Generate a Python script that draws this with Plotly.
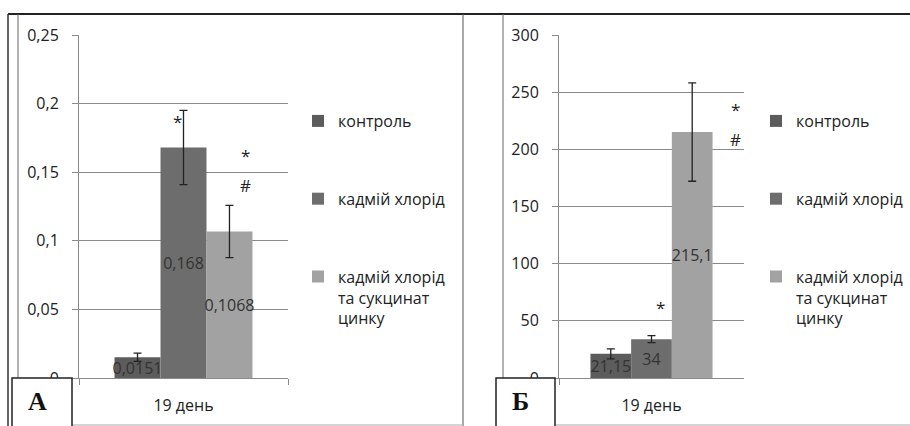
import plotly.graph_objects as go

W, H = 910, 426

categories = ["19 день"]
series_names = ["контроль", "кадмій хлорід", "кадмій хлорід<br>та сукцинат<br>цинку"]
colors = ["#5c5c5c", "#6d6d6d", "#a2a2a2"]

# Panel A
a_values = [0.0151, 0.168, 0.1068]
a_err = [0.003, 0.027, 0.019]
a_labels = ["0,0151", "0,168", "0,1068"]
# Panel Б
b_values = [21.15, 34, 215.1]
b_err = [4.4, 3.0, 43.0]
b_labels = ["21,15", "34", "215,1"]

# significance marks: (panel, bar index, text, x offset in category units, y value)
marks = [
    ("A", 1, "*", -0.03, 0.187),
    ("A", 2, "*", 0.295, 0.1625),
    ("A", 2, "#", 0.295, 0.1405),
    ("B", 1, "*", 0.046, 62),
    ("B", 2, "*", 0.452, 235),
    ("B", 2, "#", 0.452, 209),
]

FONT = "Open Sans"

def px(x):
    return x / W

def py(y):
    return 1 - y / H

fig = go.Figure()

for i in range(3):
    fig.add_trace(go.Bar(
        x=categories, y=[a_values[i]], name=series_names[i],
        marker=dict(color=colors[i], line=dict(width=0)),
        error_y=dict(type="data", array=[a_err[i]], color="#222", thickness=1.3, width=4),
        text=[a_labels[i]], textposition="inside", insidetextanchor="middle", textangle=0,
        constraintext="none", textfont=dict(color="#333", size=16, family=FONT),
        xaxis="x", yaxis="y", legend="legend", legendgroup="a%d" % i,
    ))
for i in range(3):
    fig.add_trace(go.Bar(
        x=categories, y=[b_values[i]], name=series_names[i],
        marker=dict(color=colors[i], line=dict(width=0)),
        error_y=dict(type="data", array=[b_err[i]], color="#222", thickness=1.3, width=4),
        text=[b_labels[i]], textposition="inside", insidetextanchor="middle", textangle=0,
        constraintext="none", textfont=dict(color="#333", size=16, family=FONT),
        xaxis="x2", yaxis="y2", legend="legend2", legendgroup="b%d" % i,
    ))

axis_common = dict(showline=True, linecolor="#8a8a8a", linewidth=1, ticks="outside",
                   tickcolor="#8a8a8a", ticklen=6, automargin=False,
                   tickfont=dict(size=16, color="#222", family=FONT))

fig.update_layout(
    width=W, height=H, margin=dict(l=0, r=0, t=0, b=0, autoexpand=False),
    paper_bgcolor="white", plot_bgcolor="white",
    separators=", ",
    barmode="group", bargap=0.34, bargroupgap=0,
    font=dict(family=FONT, size=16, color="#222"),
    xaxis=dict(domain=[px(79), px(288)], tickson="boundaries", ticklabelstandoff=13,
               anchor="y", **axis_common),
    yaxis=dict(domain=[py(378), py(35)], range=[0, 0.25], dtick=0.05, showgrid=True,
               gridcolor="#8a8a8a", gridwidth=1, ticklabelstandoff=10, anchor="x",
               zeroline=False, **axis_common),
    xaxis2=dict(domain=[px(559), px(744)], tickson="boundaries", ticklabelstandoff=13,
                anchor="y2", **axis_common),
    yaxis2=dict(domain=[py(378), py(35)], range=[0, 300], dtick=50, showgrid=True,
                gridcolor="#8a8a8a", gridwidth=1, ticklabelstandoff=10, anchor="x2",
                zeroline=False, **axis_common),
    legend=dict(x=px(298), y=py(104), xanchor="left", yanchor="top", tracegroupgap=54,
                font=dict(size=16, color="#222", family=FONT), valign="top",
                bgcolor="rgba(0,0,0,0)", itemwidth=30),
    legend2=dict(x=px(756), y=py(104), xanchor="left", yanchor="top", tracegroupgap=54,
                 font=dict(size=16, color="#222", family=FONT), valign="top",
                 bgcolor="rgba(0,0,0,0)", itemwidth=30),
    showlegend=True,
)

shapes = []
def line(x0, y0, x1, y1, color, width):
    shapes.append(dict(type="line", xref="paper", yref="paper", x0=px(x0), y0=py(y0),
                       x1=px(x1), y1=py(y1), line=dict(color=color, width=width), layer="above"))

line(8, 14, 910, 14, "#222", 2)
line(8, 14, 8, 426, "#333", 1.5)
line(18, 14, 18, 378, "#666", 1)
line(463, 14, 463, 426, "#555", 1)
line(503, 14, 503, 378, "#666", 1)
line(72, 425, 463, 425, "#aaa", 1)
line(555, 425, 910, 425, "#aaa", 1)
for (x0, x1) in [(12, 72), (496, 555)]:
    shapes.append(dict(type="rect", xref="paper", yref="paper", x0=px(x0), y0=py(432),
                       x1=px(x1), y1=py(378), fillcolor="white",
                       line=dict(color="#222", width=1.5), layer="above"))
fig.update_layout(shapes=shapes)

ann = []
for lbl, xc in [("А", 37), ("Б", 520)]:
    ann.append(dict(text="<b>%s</b>" % lbl, x=px(xc), y=py(401), xref="paper", yref="paper",
                    xanchor="center", yanchor="middle", showarrow=False,
                    font=dict(family="Liberation Serif", size=26, color="#111")))
for panel, idx, t, dx, yv in marks:
    xr, yr = ("x", "y") if panel == "A" else ("x2", "y2")
    ann.append(dict(text=t, x=dx, y=yv, xref=xr, yref=yr, showarrow=False,
                    font=dict(size=17, color="#222", family=FONT)))
fig.update_layout(annotations=ann)

fig.write_html("out.html", config={"displayModeBar": False},
               post_script="document.body.style.margin='0';document.body.style.overflow='hidden';")
